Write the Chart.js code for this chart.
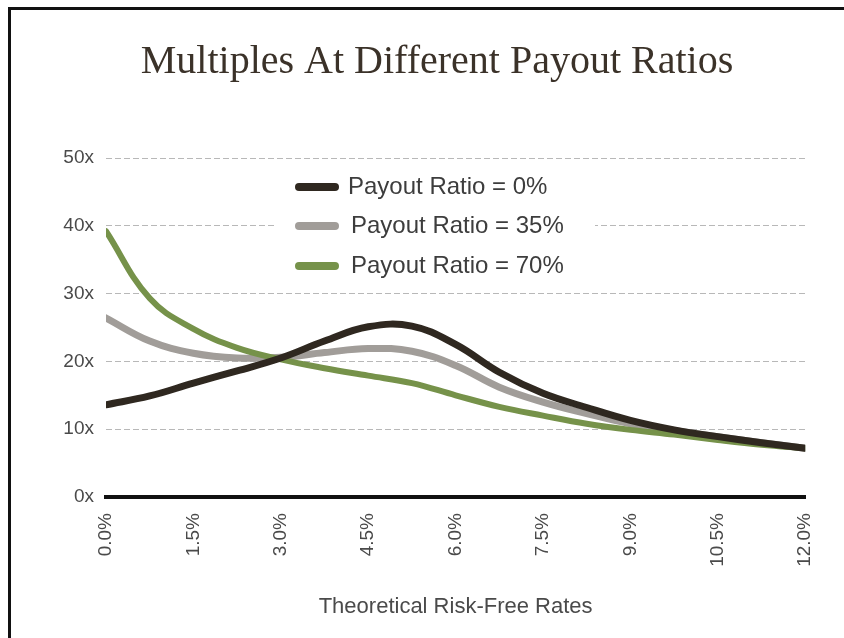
<!DOCTYPE html>
<html>
<head>
<meta charset="utf-8">
<script src="https://cdn.jsdelivr.net/npm/chart.js@4.4.1/dist/chart.umd.min.js"></script>
<style>
  html, body { margin: 0; padding: 0; background: #fff; }
  #wrap { position: relative; width: 844px; height: 638px; overflow: hidden; }
  #c { position: absolute; left: 0; top: 0; }
  #frame { position: absolute; left: 8px; top: 7px; width: 900px; height: 700px;
           border-top: 3px solid #111; border-left: 3px solid #111; pointer-events: none; }
</style>
</head>
<body>
<div id="wrap">
  <canvas id="c" width="844" height="638"></canvas>
  <div id="frame"></div>
</div>
<script>
// ---- data ----
const rates = [0, 0.75, 1.5, 2.25, 3.0, 3.75, 4.5, 5.25, 6.0, 6.75, 7.5, 8.25, 9.0, 9.75, 10.5, 11.25, 12.0];
const payout0  = [13.6, 14.9, 16.8, 18.6, 20.5, 23.0, 25.1, 25.2, 22.5, 18.4, 15.3, 13.2, 11.3, 9.9, 8.9, 8.0, 7.2];
const payout35 = [26.4, 23.0, 21.2, 20.5, 20.6, 21.3, 21.9, 21.5, 19.4, 16.2, 14.0, 12.3, 10.8, 9.8, 8.9, 8.0, 7.2];
const payout70 = [39.2, 29.3, 24.8, 22.0, 20.3, 19.0, 17.9, 16.8, 15.0, 13.3, 12.0, 10.8, 9.9, 9.2, 8.4, 7.7, 7.2];
const seriesLabels = ['Payout Ratio = 0%', 'Payout Ratio = 35%', 'Payout Ratio = 70%'];
const xTicks = [0, 1.5, 3.0, 4.5, 6.0, 7.5, 9.0, 10.5, 12.0];
const yTicks = [0, 10, 20, 30, 40, 50];
const chartTitle = 'Multiples At Different Payout Ratios';
const xTitle = 'Theoretical Risk-Free Rates';

const colors = ['#2f2820', '#a19d99', '#76924a'];
const widths = [7, 7, 6];

function pts(arr) { return rates.map((r, i) => ({ x: r, y: arr[i] })); }

const legendPlugin = {
  id: 'innerLegend',
  afterDatasetsDraw(chart) {
    const ctx = chart.ctx;
    const a = chart.chartArea;
    const bx = a.left + 169, by = a.top + 10;
    ctx.save();
    ctx.fillStyle = '#fff';
    ctx.fillRect(bx, by, 320, 112);
    ctx.font = '24px "Liberation Sans", Arial, sans-serif';
    ctx.textBaseline = 'middle';
    const rowY = [19, 58, 98];
    const textX = [73, 76, 76];
    chart.data.datasets.forEach((ds, i) => {
      const y = by + rowY[i];
      ctx.strokeStyle = ds.borderColor;
      ctx.lineWidth = 8;
      ctx.lineCap = 'round';
      ctx.beginPath();
      ctx.moveTo(bx + 24, y);
      ctx.lineTo(bx + 60, y);
      ctx.stroke();
      ctx.fillStyle = '#3d3d3d';
      ctx.fillText(ds.label, bx + textX[i], y);
    });
    ctx.restore();
  }
};

new Chart(document.getElementById('c'), {
  type: 'line',
  data: {
    datasets: [
      { label: seriesLabels[0], data: pts(payout0), borderColor: colors[0], borderWidth: widths[0], order: 0 },
      { label: seriesLabels[1], data: pts(payout35), borderColor: colors[1], borderWidth: widths[1], order: 2 },
      { label: seriesLabels[2], data: pts(payout70), borderColor: colors[2], borderWidth: widths[2], order: 1 }
    ]
  },
  options: {
    responsive: false,
    animation: false,
    devicePixelRatio: 1,
    layout: { padding: { left: 30, right: 0, top: 0, bottom: 0 } },
    elements: {
      point: { radius: 0 },
      line: { tension: 0.4, borderCapStyle: 'round', borderJoinStyle: 'round', fill: false }
    },
    plugins: {
      legend: { display: false },
      tooltip: { enabled: false },
      title: {
        display: true,
        text: chartTitle,
        color: '#3b3229',
        font: { family: '"Liberation Serif", "Times New Roman", serif', size: 40, weight: 'normal', lineHeight: 1.2 },
        padding: { top: 38, bottom: 72 }
      }
    },
    scales: {
      x: {
        type: 'linear',
        min: 0, max: 12,
        afterBuildTicks(scale) { scale.ticks = xTicks.map(v => ({ value: v })); },
        afterFit(scale) { scale.height = 141; },
        ticks: {
          minRotation: 90, maxRotation: 90,
          padding: 16,
          color: '#4a4a4a',
          font: { family: '"Liberation Sans", Arial, sans-serif', size: 19 },
          callback: v => Number(v).toFixed(1) + '%'
        },
        grid: { display: false, drawTicks: false },
        border: { display: true, color: '#111', width: 4 },
        title: {
          display: true, text: xTitle, color: '#4a4a4a',
          font: { family: '"Liberation Sans", Arial, sans-serif', size: 22 },
          padding: { top: 0, bottom: 18 }
        }
      },
      y: {
        min: 0, max: 50,
        afterBuildTicks(scale) { scale.ticks = yTicks.map(v => ({ value: v })); },
        afterFit(scale) { scale.width = 76; },
        ticks: {
          padding: 12,
          color: '#4a4a4a',
          font: { family: '"Liberation Sans", Arial, sans-serif', size: 19 },
          callback: v => v + 'x'
        },
        grid: {
          drawTicks: false,
          color: ctx => ctx.tick && ctx.tick.value === 0 ? 'rgba(0,0,0,0)' : '#b8b8b8',
          lineWidth: 1
        },
        border: { display: false, dash: [6, 3] }
      },
      yRight: {
        position: 'right',
        min: 0, max: 50,
        afterFit(scale) { scale.width = 38; },
        ticks: { display: false },
        grid: { display: false, drawTicks: false },
        border: { display: false }
      }
    }
  },
  plugins: [legendPlugin]
});
</script>
</body>
</html>
